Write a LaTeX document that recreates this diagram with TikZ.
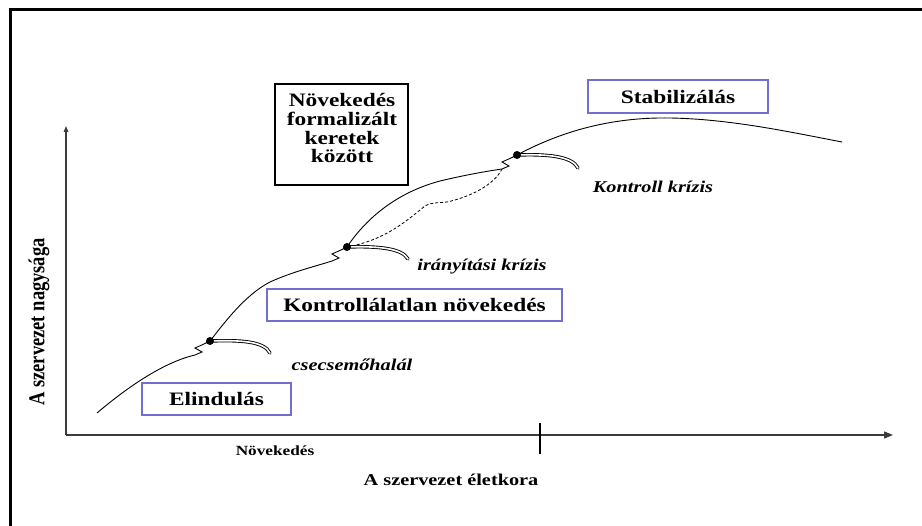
\documentclass[tikz,border=0pt]{standalone}
\usepackage{fontspec}
\setmainfont{Liberation Serif}
\usetikzlibrary{arrows.meta}
\definecolor{boxblue}{RGB}{112,112,208}
\definecolor{axisgray}{RGB}{60,60,60}
\newcommand{\sx}[1]{\scalebox{1.23}[1]{#1}}
\tikzset{
  frameline/.style={line width=3pt, black},
  axisline/.style={line width=1.3pt, axisgray},
  bluebox/.style={draw=boxblue, line width=1.3pt, inner sep=0pt},
  blackbox/.style={draw=black, line width=1.1pt, inner sep=0pt},
  boxtext/.style={font=\fontsize{19}{18}\selectfont\bfseries, inner sep=0pt},
  crisistext/.style={font=\fontsize{16.5}{18}\selectfont\bfseries\itshape, inner sep=0pt},
  curveline/.style={line width=0.9pt, black},
  dashline/.style={line width=0.8pt, black, dash pattern=on 3pt off 2pt},
  tailline/.style={double=white, double distance=1.6pt, line width=0.9pt, line cap=round},
  dotnode/.style={circle, fill=black, minimum size=8pt, inner sep=0pt},
}
\begin{document}
\begin{tikzpicture}[x=1pt,y=-1pt]
\useasboundingbox (0,0) rectangle (922,526);
\fill[white] (0,0) rectangle (922,526);
% frame
\coordinate (fbl) at (10.5,540);
\coordinate (ftl) at (10.5,10);
\coordinate (ftr) at (940,10);
\draw[frameline] (fbl) -- (ftl) -- (ftr);
% axes
\coordinate (O) at (66,435);
\coordinate (ytop) at (66,126);
\coordinate (xend) at (893,435);
\draw[axisline, -{Triangle[length=6pt,width=4.5pt]}] (O) -- (ytop);
\draw[axisline, -{Triangle[length=9pt,width=7pt]}] (O) -- (xend);
\coordinate (tickt) at (540,423);
\coordinate (tickb) at (540,454);
\draw[line width=1.4pt] (tickt) -- (tickb);
% axis labels
\node[inner sep=0pt, rotate=90] (ylab) at (39,322) {\scalebox{1}[1.23]{\fontsize{18.5}{18}\selectfont\bfseries A szervezet nagysága}};
\node[inner sep=0pt, font=\fontsize{14}{16}\selectfont\bfseries] (novlab) at (275,451) {\sx{Növekedés}};
\node[inner sep=0pt, font=\fontsize{16.5}{18}\selectfont\bfseries] (xlab) at (451,480) {\sx{A szervezet életkora}};
% boxes
\node[bluebox, minimum width=149pt, minimum height=32pt] (elind) at (216.5,399) {};
\node[boxtext] (elindt) at (216.5,399) {\sx{Elindulás}};
\node[bluebox, minimum width=295pt, minimum height=32pt] (kontr) at (414.5,305) {};
\node[boxtext] (kontrt) at (414.5,305) {\sx{Kontrollálatlan növekedés}};
\node[bluebox, minimum width=180pt, minimum height=33pt] (stab) at (678,96.5) {};
\node[boxtext] (stabt) at (678,96.5) {\sx{Stabilizálás}};
\node[blackbox, minimum width=133pt, minimum height=101pt] (form) at (341.5,134.5) {};
\node[boxtext] (formt) at (342,131) {\sx{\renewcommand\arraystretch{1}\begin{tabular}{@{}c@{}}Növekedés\\formalizált\\keretek\\között\end{tabular}}};
% crisis labels
\node[crisistext] (c1) at (352,365) {\sx{csecsemőhalál}};
\node[crisistext] (c2) at (482,267) {\sx{irányítási krízis}};
\node[crisistext] (c3) at (653,187) {\sx{Kontroll krízis}};
% curve points
\coordinate (s0) at (97,413);
\coordinate (z1) at (195,355);
\coordinate (d1) at (210,341);
\coordinate (z2) at (332,261);
\coordinate (d2) at (347,247);
\coordinate (z3) at (502,169);
\coordinate (d3) at (517,155);
\coordinate (e3) at (842,142);
\coordinate (t1) at (270,353);
\coordinate (t2) at (408,259);
\coordinate (t3) at (578,168);
% curve segments
\draw[curveline] (s0) .. controls (130,385) and (165,362) .. (z1)
  -- ++(7,-3) -- ++(-7,-4) -- ++(9,-4) -- (d1);
\draw[curveline] (d1) .. controls (225,322) and (245,295) .. (270,282)
  .. controls (292,272) and (313,267) .. (z2)
  -- ++(7,-3) -- ++(-7,-4) -- ++(9,-4) -- (d2);
\draw[curveline] (d2) .. controls (365,220) and (395,193) .. (440,181)
  .. controls (465,175) and (488,171) .. (z3)
  -- ++(7,-3) -- ++(-7,-4) -- ++(9,-4) -- (d3);
\draw[dashline] (d2) .. controls (385,240) and (405,222) .. (425,206)
  .. controls (432,202) and (440,203) .. (447,202)
  .. controls (470,197) and (494,185) .. (z3);
\draw[curveline] (d3) .. controls (560,132) and (610,117) .. (670,118)
  .. controls (730,119) and (790,132) .. (e3);
% tails
\draw[tailline] (d1) .. controls (240,340) and (264,341) .. (t1);
\draw[tailline] (d2) .. controls (377,246) and (402,248) .. (t2);
\draw[tailline] (d3) .. controls (547,154) and (572,156) .. (t3);
% dots
\node[dotnode] (dot1) at (d1) {};
\node[dotnode] (dot2) at (d2) {};
\node[dotnode] (dot3) at (d3) {};
\end{tikzpicture}
\end{document}
